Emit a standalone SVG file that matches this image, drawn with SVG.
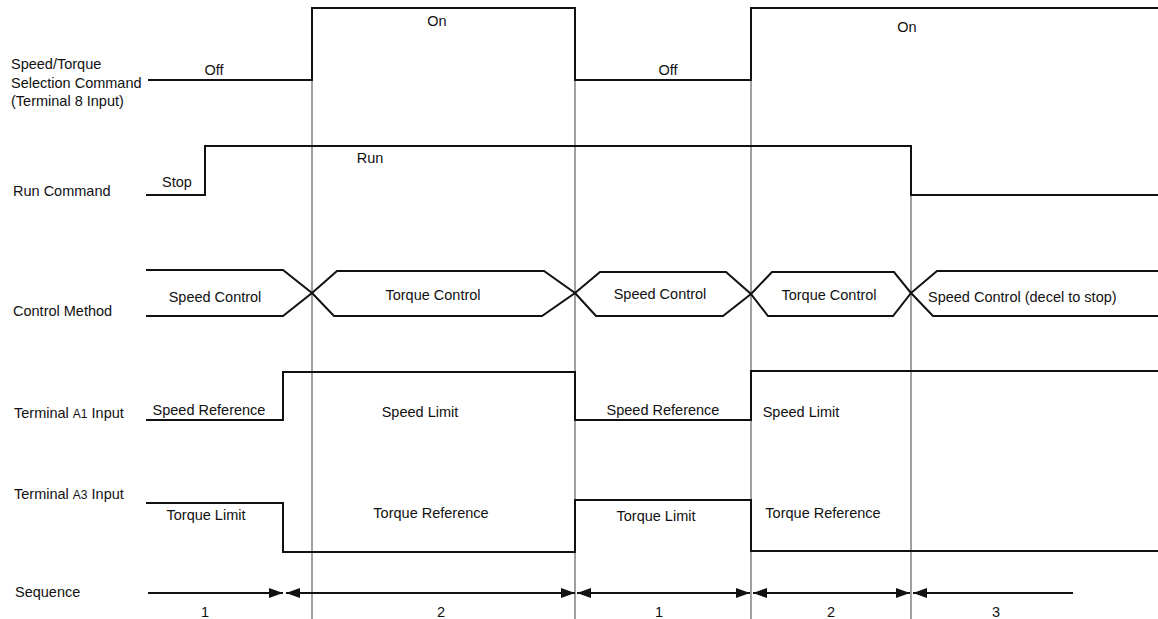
<svg xmlns="http://www.w3.org/2000/svg" width="1158" height="619" viewBox="0 0 1158 619">
<defs>
<style>
text{font-family:"Liberation Sans",Arial,sans-serif;font-size:14.5px;fill:#111}
.sig{fill:none;stroke:#111;stroke-width:2;stroke-linejoin:miter}
.grid{stroke:#a0a0a0;stroke-width:2}
.arr{stroke:#111;stroke-width:2}
.mid{text-anchor:middle}
.sm{font-size:12px}
</style>
<marker id="ah" viewBox="0 0 14 10" refX="14" refY="5" markerWidth="14" markerHeight="10" markerUnits="userSpaceOnUse" orient="auto-start-reverse">
<path d="M0,0 L14,5 L0,10 Z" fill="#111"/>
</marker>
</defs>
<rect width="1158" height="619" fill="#fff"/>

<g id="gridlines">
<line class="grid" x1="312" y1="80" x2="312" y2="619"/>
<line class="grid" x1="575" y1="80" x2="575" y2="619"/>
<line class="grid" x1="751" y1="80" x2="751" y2="619"/>
<line class="grid" x1="911" y1="195" x2="911" y2="619"/>
</g>

<g id="labels">
<text x="11" y="69">Speed/Torque</text>
<text x="11" y="88">Selection Command</text>
<text x="11" y="106">(Terminal 8 Input)</text>
<text x="13" y="196">Run Command</text>
<text x="13" y="316">Control Method</text>
<text x="14" y="418">Terminal <tspan class="sm">A1</tspan> Input</text>
<text x="14" y="499">Terminal <tspan class="sm">A3</tspan> Input</text>
<text x="15" y="597">Sequence</text>
</g>

<g id="speed-torque-select">
<path class="sig" d="M148,80 H312 V8 H575 V80 H751 V8 H1158"/>
<text x="214" y="75" class="mid">Off</text>
<text x="437" y="26" class="mid">On</text>
<text x="668" y="75" class="mid">Off</text>
<text x="907" y="32" class="mid">On</text>
</g>

<g id="run-command">
<path class="sig" d="M146,195 H205 V146 H911 V195 H1158"/>
<text x="177" y="187" class="mid">Stop</text>
<text x="370" y="163" class="mid">Run</text>
</g>

<g id="control-method">
<path class="sig" d="M146,270 H283 L312,293 L283,316 H146"/>
<path class="sig" d="M312,293 L337,271 H544 L575,293 L542,316 H334 Z"/>
<path class="sig" d="M575,293 L600,272 H726 L751,294 L723,316 H596 Z"/>
<path class="sig" d="M751,294 L772,272 H894 L911,293 L893,316 H768 Z"/>
<path class="sig" d="M1158,271 H937 L911,293 L933,316 H1158"/>
<text x="215" y="302" class="mid">Speed Control</text>
<text x="433" y="300" class="mid">Torque Control</text>
<text x="660" y="299" class="mid">Speed Control</text>
<text x="829" y="300" class="mid">Torque Control</text>
<text x="928" y="302">Speed Control (decel to stop)</text>
</g>

<g id="terminal-a1">
<path class="sig" d="M146,420 H283 V372 H575 V420 H751 V371 H1158"/>
<text x="209" y="415" class="mid">Speed Reference</text>
<text x="420" y="417" class="mid">Speed Limit</text>
<text x="663" y="415" class="mid">Speed Reference</text>
<text x="801" y="417" class="mid">Speed Limit</text>
</g>

<g id="terminal-a3">
<path class="sig" d="M146,503 H283 V552 H575 V500 H751 V551 H1158"/>
<text x="206" y="520" class="mid">Torque Limit</text>
<text x="431" y="518" class="mid">Torque Reference</text>
<text x="656" y="521" class="mid">Torque Limit</text>
<text x="823" y="518" class="mid">Torque Reference</text>
</g>

<g id="sequence">
<line class="arr" x1="148" y1="593" x2="283" y2="593" marker-end="url(#ah)"/>
<line class="arr" x1="286" y1="593" x2="575" y2="593" marker-start="url(#ah)" marker-end="url(#ah)"/>
<line class="arr" x1="577" y1="593" x2="750" y2="593" marker-start="url(#ah)" marker-end="url(#ah)"/>
<line class="arr" x1="753" y1="593" x2="910" y2="593" marker-start="url(#ah)" marker-end="url(#ah)"/>
<line class="arr" x1="913" y1="593" x2="1073" y2="593" marker-start="url(#ah)"/>
<text x="205" y="617" class="mid">1</text>
<text x="441" y="617" class="mid">2</text>
<text x="659" y="617" class="mid">1</text>
<text x="831" y="617" class="mid">2</text>
<text x="996" y="617" class="mid">3</text>
</g>
</svg>
